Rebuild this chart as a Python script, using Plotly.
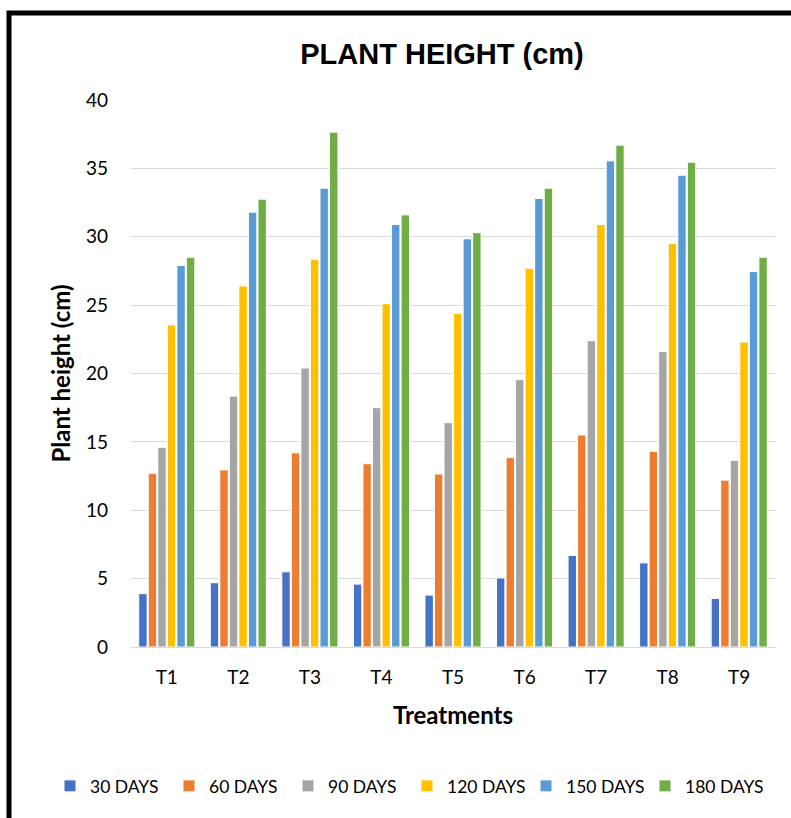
import plotly.graph_objects as go

treatments = ["T1", "T2", "T3", "T4", "T5", "T6", "T7", "T8", "T9"]
series_names = ["30 DAYS", "60 DAYS", "90 DAYS", "120 DAYS", "150 DAYS", "180 DAYS"]
d30 = [3.9, 4.7, 5.5, 4.6, 3.8, 5.05, 6.7, 6.15, 3.55]
d60 = [12.7, 12.95, 14.2, 13.4, 12.65, 13.85, 15.5, 14.3, 12.2]
d90 = [14.6, 18.35, 20.4, 17.5, 16.4, 19.55, 22.4, 21.6, 13.65]
d120 = [23.55, 26.4, 28.35, 25.1, 24.4, 27.7, 30.9, 29.5, 22.3]
d150 = [27.9, 31.8, 33.55, 30.9, 29.85, 32.8, 35.55, 34.5, 27.45]
d180 = [28.5, 32.75, 37.65, 31.6, 30.3, 33.55, 36.7, 35.45, 28.5]
y_ticks = [0, 5, 10, 15, 20, 25, 30, 35, 40]

colors = ["#4472C4", "#ED7D31", "#A5A5A5", "#FFC000", "#5B9BD5", "#70AD47"]
all_series = [d30, d60, d90, d120, d150, d180]

fig = go.Figure()
for name, vals, c in zip(series_names, all_series, colors):
    fig.add_trace(go.Bar(
        x=treatments, y=vals, name=name,
        marker=dict(color=c, line=dict(color="white", width=1)),
    ))

W, H = 791, 818
L, R, T, B = 131, 16, 100, 171
pw = W - L - R
ph = H - T - B

def px_x(p):
    return (p - L) / pw

def px_y(p):
    return (H - B - p) / ph

fig.update_layout(
    width=W, height=H,
    margin=dict(l=L, r=R, t=T, b=B),
    paper_bgcolor="white", plot_bgcolor="white",
    barmode="group", bargap=0.2, bargroupgap=0.12,
    title=dict(text="<b>PLANT HEIGHT (cm)</b>", x=442 / W, xanchor="center",
               y=1 - 54 / H, yanchor="middle",
               font=dict(family="Liberation Sans, Arial", size=29, color="black")),
    font=dict(family="Lato, Calibri, sans-serif", color="black"),
    xaxis=dict(
        showgrid=False, showline=True, linecolor="#D9D9D9", linewidth=1,
        tickfont=dict(size=19, color="black"), ticks="", ticklabelstandoff=13,
        title=dict(text="<b>Treatments</b>", font=dict(size=24, color="black"), standoff=20),
    ),
    yaxis=dict(
        range=[0, 40], tickvals=y_ticks, showgrid=True, gridcolor="#D9D9D9", gridwidth=1,
        zeroline=False, showline=False,
        tickfont=dict(size=19, color="black"), ticks="", ticklabelstandoff=22,
        title=dict(text="<b>Plant height (cm)</b>", font=dict(size=24, color="black"), standoff=8),
    ),
    legend=dict(orientation="h", x=px_x(50), xref="paper", xanchor="left",
                y=px_y(786), yref="paper", yanchor="middle",
                font=dict(size=17.5, color="black"), itemwidth=30, traceorder="normal",
                entrywidth=74, entrywidthmode="pixels", itemclick=False),
    shapes=[dict(type="rect", xref="paper", yref="paper",
                 x0=px_x(9), x1=px_x(810), y0=px_y(840), y1=px_y(13),
                 line=dict(color="black", width=5), fillcolor="rgba(0,0,0,0)", layer="above")],
)

fig.write_html("out.html", config={"displayModeBar": False},
               post_script="document.body.style.margin='0px';document.body.style.overflow='hidden';")
